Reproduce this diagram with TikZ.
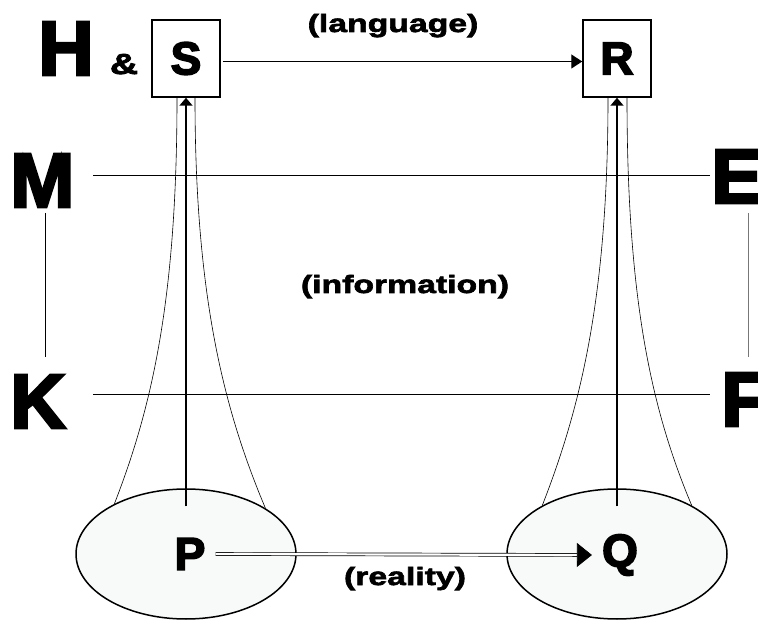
\documentclass[tikz,border=0pt]{standalone}
\usepackage{fontspec}
\newfontfamily\blk{Liberation Sans Bold}[FakeBold=3.5]
\newfontfamily\blkw{Liberation Sans Bold}[FakeBold=2.6, FakeStretch=1.35]
\usetikzlibrary{arrows.meta,shapes.geometric}
\definecolor{blobfill}{HTML}{F8F9F9}
\definecolor{sidegray}{HTML}{777777}

\begin{document}
\begin{tikzpicture}[x=1pt,y=-1pt,
  big/.style={font=\blk\fontsize{77}{77}\selectfont, inner sep=0pt, anchor=base west},
  mid/.style={font=\blk\fontsize{46}{46}\selectfont},
  lbl/.style={font=\blkw\fontsize{25}{25}\selectfont, inner sep=0pt, anchor=base},
  box/.style={draw, line width=1.5pt, minimum width=68pt, minimum height=77pt, inner sep=0pt, mid},
  blob/.style={ellipse, draw, line width=1.5pt, fill=blobfill, minimum width=220pt, minimum height=130pt},
  rule/.style={line width=0.8pt},
  funnel/.style={line width=0.6pt},
  up/.style={line width=1.8pt, -{Triangle[length=8pt,width=13pt]}},
  talk/.style={line width=1.3pt, -{Triangle[length=11pt,width=14pt]}},
  fact/.style={double, double distance=2.2pt, line width=0.7pt, -{Triangle[length=15pt,width=24pt]}},
]
\useasboundingbox (0,0) rectangle (758,620);

% side letters
\node[big] (H) at (38,75) {H};
\node[lbl, font=\blkw\fontsize{29}{29}\selectfont] (amp) at (124,74) {\&};
\node[big] (M) at (10,207) {M};
\node[big] (K) at (10,428) {K};
\node[big] (E) at (711,203) {E};
\node[big] (F) at (721,426) {F};

% boxes and regions
\node[box] (S) at (186,58.5) {S};
\node[box] (R) at (617,58.5) {R};
\node[blob] (Pe) at (186,554) {};
\node[blob] (Qe) at (617,554) {};
\node[mid, inner sep=10pt] (P) at (190,554) {P};
\node[mid, inner sep=10pt] (Q) at (620,555) {Q};

% labels
\node[lbl] (lang) at (393,32) {(language)};
\node[lbl] (info) at (405,293) {(information)};
\node[lbl] (real) at (405,585) {(reality)};

% level rules
\coordinate (m1) at (93,175);
\coordinate (e1) at (710,175);
\coordinate (k1) at (93,394);
\coordinate (f1) at (710,394);
\coordinate (mk1) at (45,213);
\coordinate (mk2) at (45,357);
\coordinate (ef1) at (748,213);
\coordinate (ef2) at (748,357);
\draw[rule] (m1) -- (e1);
\draw[rule] (k1) -- (f1);
\draw[rule] (mk1) -- (mk2);
\draw[rule, sidegray] (ef1) -- (ef2);

% funnels
\draw[funnel] (Pe.145) .. controls +(37,-95) and +(0,203) .. ([xshift=-9pt]S.south);
\draw[funnel] (Pe.30) .. controls +(-40,-95) and +(0,203) .. ([xshift=9pt]S.south);
\draw[funnel] (Qe.147) .. controls +(37,-95) and +(0,203) .. ([xshift=-9pt]R.south);
\draw[funnel] (Qe.33) .. controls +(-40,-95) and +(0,203) .. ([xshift=10pt]R.south);

% arrows
\draw[up] ([yshift=-18pt]Pe.north) -- (S.south);
\draw[up] ([yshift=-18pt]Qe.north) -- (R.south);
\draw[talk] ([yshift=-3pt,xshift=2pt]S.east) -- ([yshift=-3pt]R.west);
\draw[fact] (P.east) -- (Q.west);
\end{tikzpicture}
\end{document}
